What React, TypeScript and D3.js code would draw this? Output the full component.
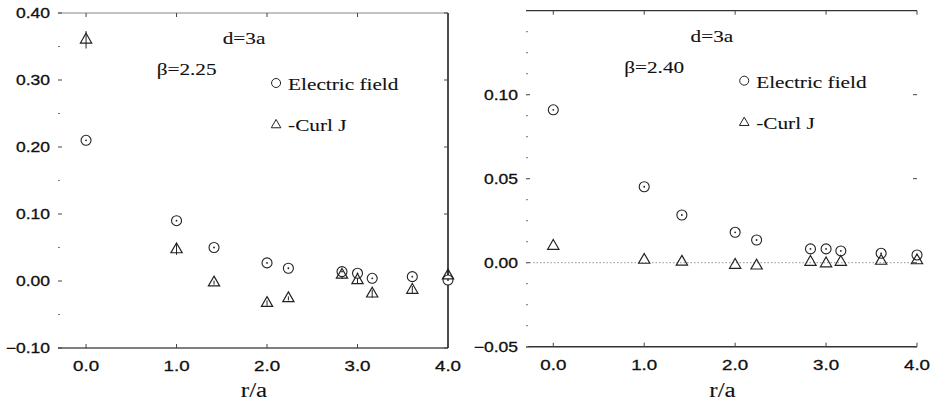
import React, { useEffect, useRef } from 'react';
import * as d3 from 'd3';

// lattice distances r/a
const rVals = [0, 1, Math.SQRT2, 2, Math.sqrt(5), Math.sqrt(8), 3, Math.sqrt(10), Math.sqrt(13), 4];

// beta = 2.25
const efield225 = [0.21, 0.09, 0.05, 0.027, 0.019, 0.014, 0.0115, 0.004, 0.0065, 0.0015];
const curl225 = [0.36, 0.047, -0.0025, -0.033, -0.026, 0.009, 0.001, -0.019, -0.0135, 0.008];
const curlErr225 = [0.013, 0.008, 0.003, 0.004, 0.003, 0.006, 0.004, 0.006, 0.006, 0.01];

// beta = 2.40
const efield240 = [0.091, 0.0452, 0.0284, 0.0181, 0.0135, 0.0082, 0.0082, 0.007, 0.0056, 0.0046];
const curl240 = [0.0099, 0.0016, 0.0005, -0.0014, -0.0018, 0.0004, -0.0005, 0.0004, 0.001, 0.0013];

const xTicks = [0, 1, 2, 3, 4];
const yTicksLeft = [-0.1, 0, 0.1, 0.2, 0.3, 0.4];
const yTicksRight = [-0.05, 0, 0.05, 0.1];

const sans = '"Liberation Sans", Arial, sans-serif';
const serif = '"Liberation Serif", "Times New Roman", serif';
const SX = 1.25; // the scan is stretched horizontally

function txt(g, x, y, s, family, size, anchor = 'start') {
    return g.append('text')
        .attr('transform', `translate(${x},${y}) scale(${SX},1)`)
        .attr('text-anchor', anchor)
        .attr('font-family', family).attr('font-size', size)
        .attr('fill', '#111')
        .attr('stroke', '#111').attr('stroke-width', family === sans ? 0.3 : 0.1)
        .text(s);
}

function drawPanel(svg, opt) {
    const { left, right, top, bottom, xDomain, yDomain, yTicks, yMinor, efield, curl, curlErr, beta, zeroLine, frame } = opt;

    const x = d3.scaleLinear().domain(xDomain).range([left, right]);
    const y = d3.scaleLinear().domain(yDomain).range([bottom, top]);
    const g = svg.append('g');

    // frame
    if (frame.top) g.append('line').attr('x1', left).attr('x2', right).attr('y1', top).attr('y2', top)
        .attr('stroke', frame.top).attr('stroke-width', 1.2);
    if (frame.bottom) g.append('line').attr('x1', left).attr('x2', right).attr('y1', bottom).attr('y2', bottom)
        .attr('stroke', frame.bottom).attr('stroke-width', 1.5);
    if (frame.right) g.append('line').attr('x1', right).attr('x2', right).attr('y1', top).attr('y2', bottom)
        .attr('stroke', frame.right).attr('stroke-width', 1.5);

    // y ticks (left + right side)
    g.selectAll('.ytick').data(yTicks).join('line')
        .attr('x1', left).attr('x2', left + 4).attr('y1', d => y(d)).attr('y2', d => y(d))
        .attr('stroke', '#444');
    g.selectAll('.ytickr').data(yTicks).join('line')
        .attr('x1', right - 4).attr('x2', right).attr('y1', d => y(d)).attr('y2', d => y(d))
        .attr('stroke', '#444');
    g.selectAll('.yminor').data(yMinor).join('line')
        .attr('x1', left).attr('x2', left + 2).attr('y1', d => y(d)).attr('y2', d => y(d))
        .attr('stroke', '#777');
    yTicks.forEach(d => txt(g, left - 8, y(d) + 5, d3.format('.2f')(d), sans, 14, 'end'));

    // x ticks
    g.selectAll('.xtick').data(xTicks).join('line')
        .attr('x1', d => x(d)).attr('x2', d => x(d)).attr('y1', bottom).attr('y2', bottom - 4)
        .attr('stroke', '#444');
    g.selectAll('.xtickt').data(xTicks).join('line')
        .attr('x1', d => x(d)).attr('x2', d => x(d)).attr('y1', top).attr('y2', top + 4)
        .attr('stroke', '#444');
    xTicks.forEach(d => txt(g, x(d), bottom + 23, d3.format('.1f')(d), sans, 15, 'middle'));
    txt(g, (left + right) / 2 + 1, 397, 'r/a', serif, 20, 'middle');

    if (zeroLine) {
        g.append('line').attr('x1', left).attr('x2', right).attr('y1', y(0)).attr('y2', y(0))
            .attr('stroke', '#777').attr('stroke-width', 0.8).attr('stroke-dasharray', '1.5,2');
    }

    // error bars
    if (curlErr) {
        g.selectAll('.err').data(curl).join('line')
            .attr('x1', (d, i) => x(rVals[i])).attr('x2', (d, i) => x(rVals[i]))
            .attr('y1', (d, i) => y(d - curlErr[i])).attr('y2', (d, i) => y(d + curlErr[i]))
            .attr('stroke', '#222').attr('stroke-width', 1);
    }

    // circles
    g.selectAll('.ef').data(efield).join('circle')
        .attr('cx', (d, i) => x(rVals[i])).attr('cy', d => y(d)).attr('r', 5)
        .attr('fill', 'white').attr('stroke', '#222').attr('stroke-width', 1.1);
    g.selectAll('.efdot').data(efield).join('circle')
        .attr('cx', (d, i) => x(rVals[i])).attr('cy', d => y(d)).attr('r', 0.9)
        .attr('fill', '#222');

    // triangles
    const tri = d3.symbol().type(d3.symbolTriangle).size(55);
    g.selectAll('.cj').data(curl).join('path')
        .attr('d', tri)
        .attr('transform', (d, i) => `translate(${x(rVals[i])},${y(d)})`)
        .attr('fill', 'none').attr('stroke', '#222').attr('stroke-width', 1.2);

    // annotations
    txt(g, x(1.51), top + 31, 'd=3a', serif, 17);
    txt(g, x(0.78), top + 62, beta, serif, 17);

    const lx = x(2.1);
    g.append('circle').attr('cx', lx).attr('cy', top + 70).attr('r', 4.5)
        .attr('fill', 'none').attr('stroke', '#222').attr('stroke-width', 1);
    txt(g, lx + 12, top + 77, 'Electric field', serif, 17);
    g.append('path').attr('d', d3.symbol().type(d3.symbolTriangle).size(40))
        .attr('transform', `translate(${lx},${top + 112})`)
        .attr('fill', 'none').attr('stroke', '#222').attr('stroke-width', 1);
    txt(g, lx + 12, top + 118, '-Curl J', serif, 17);
}

function App() {
    const ref = useRef(null);

    useEffect(() => {
        const svg = d3.select(ref.current);
        svg.selectAll('*').remove();

        drawPanel(svg, {
            left: 58, right: 448, top: 13, bottom: 348,
            xDomain: [-0.31, 4.0], yDomain: [-0.1, 0.4],
            yTicks: yTicksLeft, yMinor: d3.range(-0.05, 0.4, 0.1),
            efield: efield225, curl: curl225, curlErr: curlErr225,
            beta: 'β=2.25', zeroLine: false,
            frame: { top: '#888', bottom: '#555', right: '#111' }
        });

        drawPanel(svg, {
            left: 526, right: 917, top: 10.7, bottom: 346.7,
            xDomain: [-0.3, 4.0], yDomain: [-0.05, 0.15],
            yTicks: yTicksRight, yMinor: d3.range(-0.05, 0.15, 0.0125),
            efield: efield240, curl: curl240, curlErr: null,
            beta: 'β=2.40', zeroLine: true,
            frame: { top: '#333', bottom: '#333', right: null }
        });
    }, []);

    return (
        <svg ref={ref} width={941} height={400}
            style={{ position: 'absolute', left: 0, top: 0, background: 'white' }} />
    );
}

export default App;
